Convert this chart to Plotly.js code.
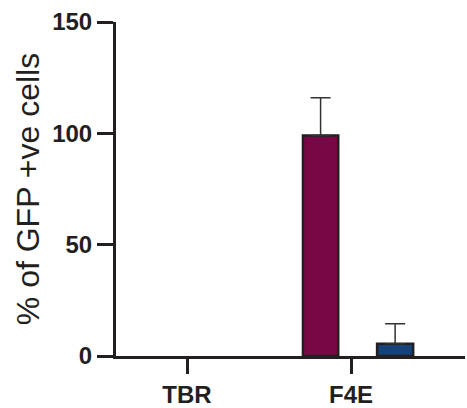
<!DOCTYPE html>
<html>
<head>
<meta charset="utf-8">
<script src="https://cdn.plot.ly/plotly-3.0.1.min.js"></script>
<style>html,body{margin:0;padding:0;background:#fff;}#chart{width:467px;height:408px;}</style>
</head>
<body>
<div id="chart"></div>
<script>
const categories = ["TBR", "F4E"];
const seriesA = [null, 99];
const seriesAErr = [null, 17];
const seriesB = [null, 5.5];
const seriesBErr = [null, 9];
const yTicks = [0, 50, 100, 150];

const edge = '#231f20';
const traces = [
  {
    type: 'bar', x: categories, y: seriesA,
    offset: -0.293, width: 0.215,
    marker: {color: '#780845', line: {color: edge, width: 2.5}},
    error_y: {type: 'data', symmetric: false, array: seriesAErr, arrayminus: [0, 0], color: '#333', thickness: 1.5, width: 10}
  },
  {
    type: 'bar', x: categories, y: seriesB,
    offset: 0.159, width: 0.22,
    marker: {color: '#16427a', line: {color: edge, width: 2.5}},
    error_y: {type: 'data', symmetric: false, array: seriesBErr, arrayminus: [0, 0], color: '#333', thickness: 1.5, width: 10}
  }
];

const layout = {
  width: 467, height: 408,
  margin: {l: 116, r: 2, t: 22, b: 52},
  paper_bgcolor: '#fff', plot_bgcolor: '#fff',
  showlegend: false,
  barmode: 'overlay',
  font: {family: 'Liberation Sans, Arial, sans-serif', color: edge},
  xaxis: {
    type: 'category', range: [-0.433, 1.695],
    showline: true, linecolor: edge, linewidth: 3,
    ticks: 'outside', ticklen: 15, tickwidth: 3, tickcolor: edge,
    tickfont: {size: 24, family: 'Liberation Sans, Arial, sans-serif', weight: 'bold', color: edge},
    showgrid: false, zeroline: false, fixedrange: true
  },
  yaxis: {
    range: [0, 150], tickvals: yTicks, ticktext: yTicks.map(String),
    showline: true, linecolor: edge, linewidth: 3,
    ticks: 'outside', ticklen: 16, tickwidth: 3, tickcolor: edge,
    tickfont: {size: 24, family: 'Liberation Sans, Arial, sans-serif', weight: 'bold', color: edge},
    showgrid: false, zeroline: false,
    title: {text: '% of GFP +ve cells', font: {size: 32, family: 'Liberation Sans, Arial, sans-serif', color: edge}, standoff: 3}
  }
};

Plotly.newPlot('chart', traces, layout, {staticPlot: true, displayModeBar: false});
</script>
</body>
</html>
